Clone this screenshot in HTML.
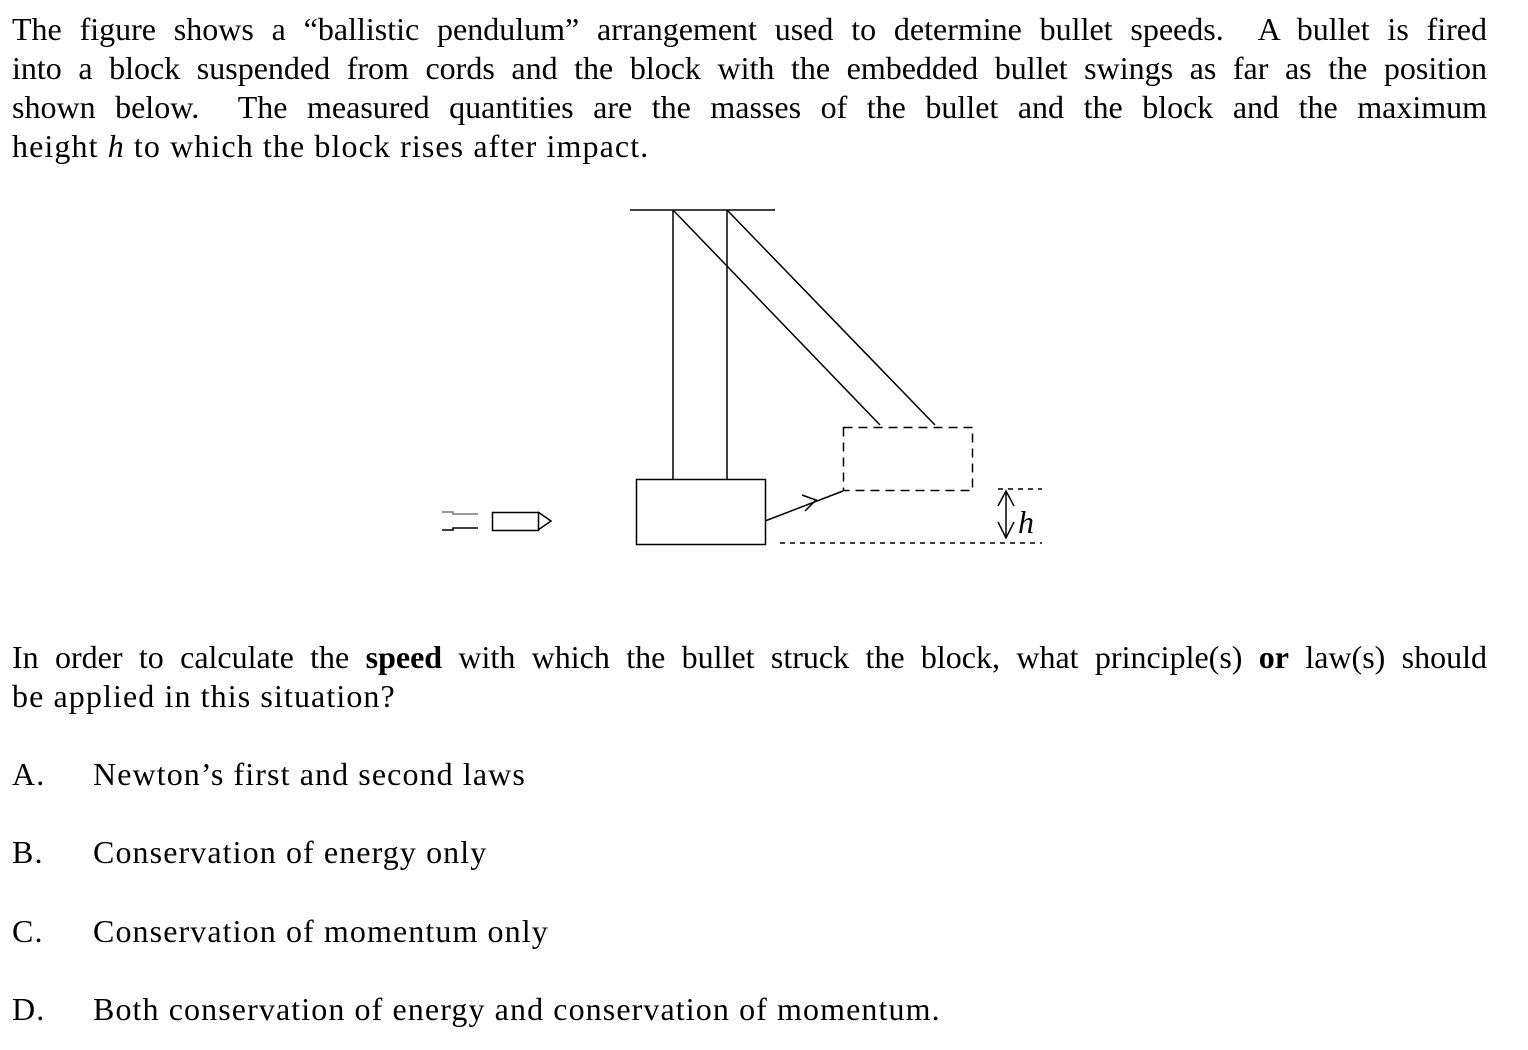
<!DOCTYPE html>
<html><head><meta charset="utf-8"><style>
body{margin:0;width:1528px;height:1050px;background:#fff;position:relative;overflow:hidden;font-family:"Liberation Serif",serif;font-size:32px;color:#000;letter-spacing:1.1px}
.p{position:absolute;left:12px;width:1475px;line-height:39px}
.j{text-align:justify;text-align-last:justify;white-space:nowrap;letter-spacing:0}
.l{white-space:nowrap}
.opt{position:absolute;left:12px;line-height:39px;white-space:nowrap}
.opt span{position:absolute;left:81px}
</style></head><body>
<div class="p" style="top:10px">
<div class="j">The figure shows a “ballistic pendulum” arrangement used to determine bullet speeds.&nbsp; A bullet is fired</div>
<div class="j">into a block suspended from cords and the block with the embedded bullet swings as far as the position</div>
<div class="j">shown below.&nbsp; The measured quantities are the masses of the bullet and the block and the maximum</div>
<div class="l">height <i>h</i> to which the block rises after impact.</div>
</div>
<svg style="position:absolute;left:0;top:0" width="1528" height="1050">
<g stroke="#000" stroke-width="1.5" fill="none">
<line x1="630" y1="210" x2="775" y2="210"/>
<line x1="673" y1="210" x2="673" y2="479"/>
<line x1="727" y1="210" x2="727" y2="479"/>
<line x1="673" y1="210" x2="880" y2="425"/>
<line x1="727" y1="210" x2="935" y2="425"/>
<rect x="636.5" y="479.5" width="129" height="65"/>
<rect x="843.5" y="427.5" width="129" height="63" stroke-dasharray="9,6"/>
<line x1="765" y1="521" x2="843" y2="491"/>
<polyline points="802,495 816,500 805,511"/>
<line x1="998" y1="489" x2="1042" y2="489" stroke-dasharray="5,5"/>
<line x1="780" y1="543" x2="1042" y2="543" stroke-dasharray="5,5"/>
<line x1="1006" y1="491" x2="1006" y2="538"/>
<polyline points="998,506 1006,491 1014,506"/>
<polyline points="998,522 1006,538 1014,522"/>
<rect x="492.5" y="512.5" width="46" height="18"/>
<polyline points="538,512 551,521 538,530"/>
<polyline points="442,512 453,512 453,514 478,514" stroke="#777"/>
<polyline points="442,530 453,530 453,528 478,528"/>
</g>
<text x="1018" y="533" font-family="Liberation Serif" font-style="italic" font-size="32">h</text>
</svg>
<div class="p" style="top:638px">
<div class="j">In order to calculate the <b>speed</b> with which the bullet struck the block, what principle(s) <b>or</b> law(s) should</div>
<div class="l">be applied in this situation?</div>
</div>
<div class="opt" style="top:755px">A.<span>Newton’s first and second laws</span></div>
<div class="opt" style="top:833px">B.<span>Conservation of energy only</span></div>
<div class="opt" style="top:912px">C.<span>Conservation of momentum only</span></div>
<div class="opt" style="top:990px">D.<span>Both conservation of energy and conservation of momentum.</span></div>
</body></html>
